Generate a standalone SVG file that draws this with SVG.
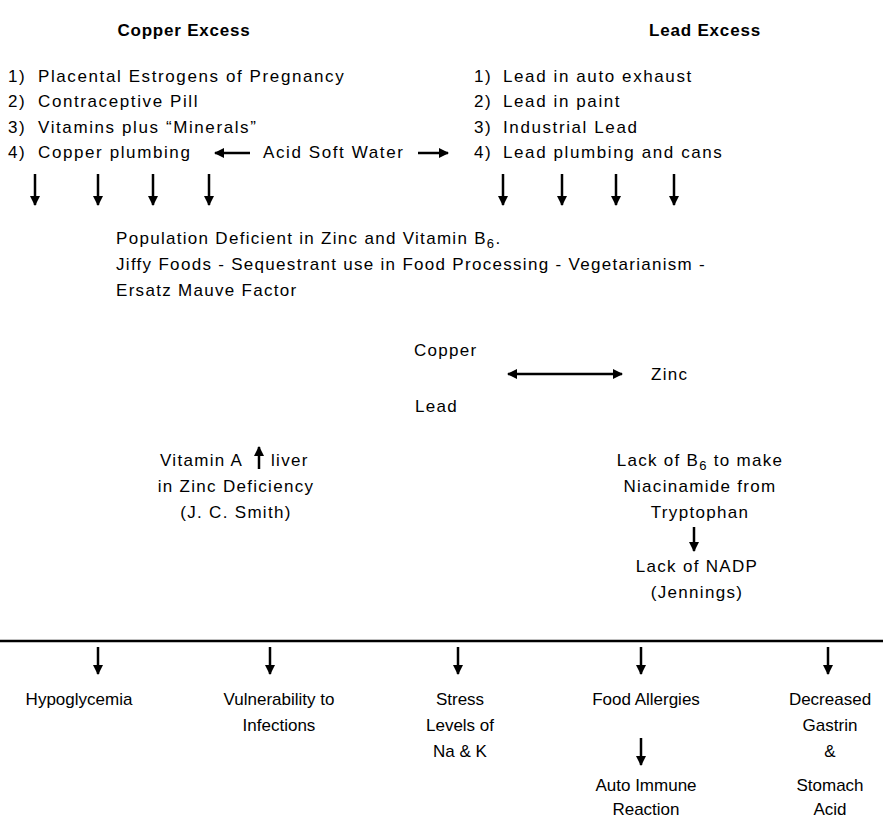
<svg xmlns="http://www.w3.org/2000/svg" width="883" height="819" viewBox="0 0 883 819">
<style>
.t{font-family:"Liberation Sans",Arial,sans-serif;font-size:17px;letter-spacing:1.3px;fill:#000}
.l{font-family:"Liberation Sans",Arial,sans-serif;font-size:17px;letter-spacing:1.6px;fill:#000}
.b{font-family:"Liberation Sans",Arial,sans-serif;font-size:17px;font-weight:bold;letter-spacing:0.8px;fill:#000}
.n{font-family:"Liberation Sans",Arial,sans-serif;font-size:17px;fill:#000}
.c{text-anchor:middle}
.ar{stroke:#000;stroke-width:2.5;fill:none}
.sub{font-size:13px}
</style>
<defs>
<marker id="ah" viewBox="0 0 10 10" refX="9" refY="5" markerWidth="10" markerHeight="10" markerUnits="userSpaceOnUse" orient="auto-start-reverse">
<path d="M0,0 L10,5 L0,10 Z" fill="#000"/>
</marker>
</defs>
<rect width="883" height="819" fill="#fff"/>

<g id="copper-excess">
<text class="b" x="184" y="36" text-anchor="middle">Copper Excess</text>
<text class="l" y="82"><tspan x="8">1)</tspan><tspan x="38">Placental Estrogens of Pregnancy</tspan></text>
<text class="l" y="107"><tspan x="8">2)</tspan><tspan x="38">Contraceptive Pill</tspan></text>
<text class="l" y="133"><tspan x="8">3)</tspan><tspan x="38">Vitamins plus “Minerals”</tspan></text>
<text class="l" y="158"><tspan x="8">4)</tspan><tspan x="38">Copper plumbing</tspan></text>
</g>

<g id="acid-soft-water">
<text class="l" x="263" y="158">Acid Soft Water</text>
</g>

<g id="lead-excess">
<text class="b" x="705" y="36" text-anchor="middle">Lead Excess</text>
<text class="l" y="82"><tspan x="474">1)</tspan><tspan x="503">Lead in auto exhaust</tspan></text>
<text class="l" y="107"><tspan x="474">2)</tspan><tspan x="503">Lead in paint</tspan></text>
<text class="l" y="133"><tspan x="474">3)</tspan><tspan x="503">Industrial Lead</tspan></text>
<text class="l" y="158"><tspan x="474">4)</tspan><tspan x="503">Lead plumbing and cans</tspan></text>
</g>

<g id="population">
<text class="t" x="116" y="244">Population Deficient in Zinc and Vitamin B<tspan class="sub" dy="4">6</tspan><tspan dy="-4">.</tspan></text>
<text class="t" x="116" y="270">Jiffy Foods - Sequestrant use in Food Processing - Vegetarianism -</text>
<text class="t" y="296"><tspan x="116">Ersatz</tspan><tspan x="178">Mauve Factor</tspan></text>
</g>

<g id="copper-lead">
<text class="t" x="414" y="356">Copper</text>
<text class="t" x="415" y="412">Lead</text>
</g>
<g id="zinc">
<text class="t" x="651" y="380">Zinc</text>
</g>

<g id="vitamin-a">
<text class="t" x="160" y="466">Vitamin A</text>
<text class="t" x="271" y="466">liver</text>
<text class="t c" x="236" y="492">in Zinc Deficiency</text>
<text class="t c" x="236" y="518">(J. C. Smith)</text>
</g>

<g id="lack-b6">
<text class="t c" x="700" y="466">Lack of B<tspan class="sub" dy="4">6</tspan><tspan dy="-4"> to make</tspan></text>
<text class="t c" x="700" y="492">Niacinamide from</text>
<text class="t c" x="700" y="518">Tryptophan</text>
</g>
<g id="lack-nadp">
<text class="t c" x="697" y="572">Lack of NADP</text>
<text class="t c" x="697" y="598">(Jennings)</text>
</g>

<g id="outcomes">
<text class="n c" x="79" y="705">Hypoglycemia</text>
<text class="n c" x="279" y="705">Vulnerability to</text>
<text class="n c" x="279" y="731">Infections</text>
<text class="n c" x="460" y="705">Stress</text>
<text class="n c" x="460" y="731">Levels of</text>
<text class="n c" x="460" y="757">Na &amp; K</text>
<text class="n c" x="646" y="705">Food Allergies</text>
<text class="n c" x="646" y="791">Auto Immune</text>
<text class="n c" x="646" y="815">Reaction</text>
<text class="n c" x="830" y="705">Decreased</text>
<text class="n c" x="830" y="731">Gastrin</text>
<text class="n c" x="830" y="757">&amp;</text>
<text class="n c" x="830" y="791">Stomach</text>
<text class="n c" x="830" y="815">Acid</text>
</g>

<g id="connectors" class="ar" marker-end="url(#ah)">
<line x1="250" y1="153" x2="215" y2="153"/>
<line x1="418" y1="153" x2="448" y2="153"/>
<line x1="35" y1="174" x2="35" y2="205"/>
<line x1="98" y1="174" x2="98" y2="205"/>
<line x1="153" y1="174" x2="153" y2="205"/>
<line x1="209" y1="174" x2="209" y2="205"/>
<line x1="503" y1="174" x2="503" y2="205"/>
<line x1="562" y1="174" x2="562" y2="205"/>
<line x1="616" y1="174" x2="616" y2="205"/>
<line x1="674" y1="174" x2="674" y2="205"/>
<line x1="508" y1="374" x2="622" y2="374" marker-start="url(#ah)"/>
<line x1="259" y1="469" x2="259" y2="447"/>
<line x1="694" y1="527" x2="694" y2="551"/>
<line x1="0" y1="641" x2="883" y2="641" marker-end="none" stroke-width="2.5"/>
<line x1="98" y1="647" x2="98" y2="674"/>
<line x1="270" y1="647" x2="270" y2="674"/>
<line x1="458" y1="647" x2="458" y2="674"/>
<line x1="641" y1="647" x2="641" y2="674"/>
<line x1="828" y1="647" x2="828" y2="674"/>
<line x1="641" y1="738" x2="641" y2="765"/>
</g>
</svg>
